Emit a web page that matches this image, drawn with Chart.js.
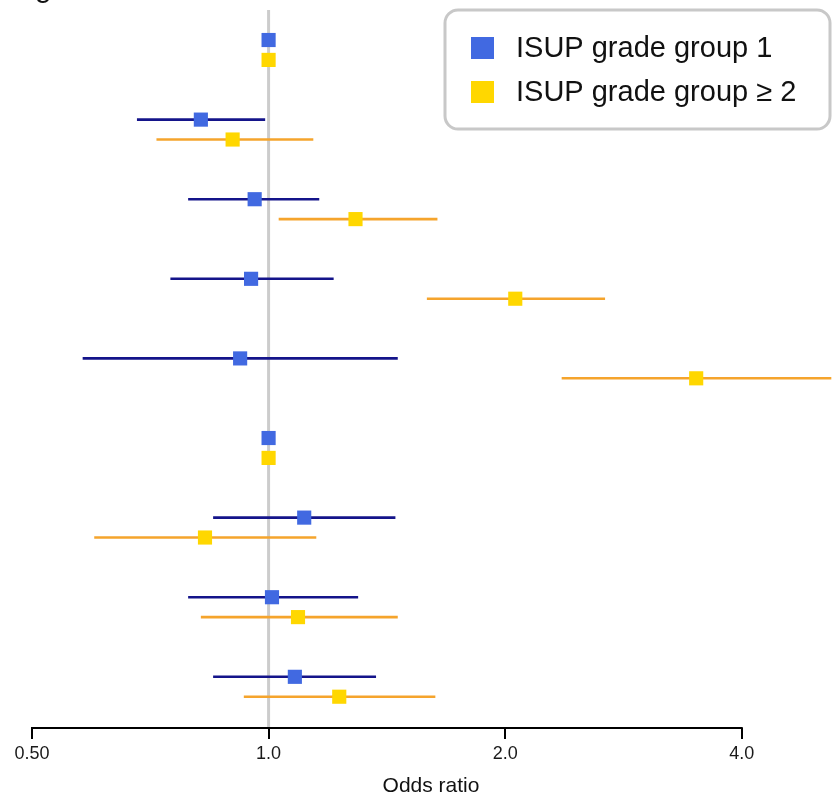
<!DOCTYPE html>
<html>
<head>
<meta charset="utf-8">
<script src="https://cdn.jsdelivr.net/npm/chart.js@4/dist/chart.umd.min.js"></script>
<style>
  body { margin: 0; background: #fff; }
  canvas { display: block; }
</style>
</head>
<body>
<canvas id="forest" width="840" height="799"></canvas>
<script>
// rows top to bottom (labels are cropped out of the picture)
const rowIndex = [0, 1, 2, 3, 4, 5, 6, 7, 8];

// ISUP grade group 1 - odds ratio and 95% CI
const grade1OR = [1.0, 0.82, 0.96, 0.95, 0.92, 1.0, 1.11, 1.01, 1.08];
const grade1Lo = [null, 0.68, 0.79, 0.75, 0.58, null, 0.85, 0.79, 0.85];
const grade1Hi = [null, 0.99, 1.16, 1.21, 1.46, null, 1.45, 1.30, 1.37];

// ISUP grade group >= 2
const grade2OR = [1.0, 0.90, 1.29, 2.06, 3.50, 1.0, 0.83, 1.09, 1.23];
const grade2Lo = [null, 0.72, 1.03, 1.59, 2.36, null, 0.60, 0.82, 0.93];
const grade2Hi = [null, 1.14, 1.64, 2.68, 5.20, null, 1.15, 1.46, 1.63];

const tickValues = [0.5, 1, 2, 4];
const tickLabels = ['0.50', '1.0', '2.0', '4.0'];

const seriesNames = ['ISUP grade group 1', 'ISUP grade group \u2265 2'];
const markerColors = ['#4169e1', '#ffd700'];
const ciColors = ['#14148a', '#f5a42c'];
const rowOffset = [0, 0.25];

const FONT = "'Liberation Sans', Arial, Helvetica, sans-serif";

const ciSets = [
  { lo: grade1Lo, hi: grade1Hi },
  { lo: grade2Lo, hi: grade2Hi }
];

// reference line at OR = 1, CI whiskers and the short x axis line
const forestPlugin = {
  id: 'forest',
  beforeDatasetsDraw(chart) {
    const { ctx, scales: { x, y }, chartArea } = chart;
    ctx.save();
    ctx.strokeStyle = '#cccccc';
    ctx.lineWidth = 3;
    ctx.beginPath();
    ctx.moveTo(x.getPixelForValue(1), chartArea.top);
    ctx.lineTo(x.getPixelForValue(1), chartArea.bottom);
    ctx.stroke();

    ciSets.forEach((s, k) => {
      ctx.strokeStyle = ciColors[k];
      ctx.lineWidth = 2.6;
      rowIndex.forEach(i => {
        if (s.lo[i] == null) return;
        const py = y.getPixelForValue(i + rowOffset[k]);
        ctx.beginPath();
        ctx.moveTo(x.getPixelForValue(s.lo[i]), py);
        ctx.lineTo(x.getPixelForValue(s.hi[i]), py);
        ctx.stroke();
      });
    });
    ctx.restore();
  },
  afterDraw(chart) {
    const { ctx, scales: { x }, chartArea } = chart;
    ctx.save();
    ctx.strokeStyle = '#000';
    ctx.lineWidth = 2;
    ctx.beginPath();
    ctx.moveTo(x.getPixelForValue(tickValues[0]) - 1, chartArea.bottom);
    ctx.lineTo(x.getPixelForValue(tickValues[tickValues.length - 1]) + 1, chartArea.bottom);
    ctx.stroke();

    // legend box
    const bx = 445, by = 10, bw = 385, bh = 119;
    ctx.fillStyle = '#fff';
    ctx.strokeStyle = '#c8c8c8';
    ctx.lineWidth = 3;
    ctx.beginPath();
    ctx.roundRect(bx, by, bw, bh, 13);
    ctx.fill();
    ctx.stroke();
    ctx.font = '29px ' + FONT;
    ctx.textBaseline = 'middle';
    seriesNames.forEach((name, k) => {
      const cy = 48 + k * 44;
      ctx.fillStyle = markerColors[k];
      ctx.fillRect(471, cy - 11, 23, 22);
      ctx.fillStyle = '#111';
      ctx.fillText(name, 516, cy + 1);
    });

    // cropped figure heading, only its descender is visible
    ctx.fillStyle = '#111';
    ctx.font = '30px ' + FONT;
    ctx.textBaseline = 'alphabetic';
    ctx.fillText('g', 35, -3);
    ctx.restore();
  }
};

const ctx = document.getElementById('forest').getContext('2d');
new Chart(ctx, {
  type: 'scatter',
  data: {
    datasets: [
      {
        label: seriesNames[0],
        data: rowIndex.map(i => ({ x: grade1OR[i], y: i + rowOffset[0] })),
        backgroundColor: markerColors[0],
        borderColor: markerColors[0],
        borderWidth: 0,
        pointStyle: 'rect',
        pointRadius: 10
      },
      {
        label: seriesNames[1],
        data: rowIndex.map(i => ({ x: grade2OR[i], y: i + rowOffset[1] })),
        backgroundColor: markerColors[1],
        borderColor: markerColors[1],
        borderWidth: 0,
        pointStyle: 'rect',
        pointRadius: 10
      }
    ]
  },
  options: {
    responsive: false,
    animation: false,
    layout: { padding: { left: 32, right: 0, top: 10, bottom: 0 } },
    plugins: {
      legend: { display: false },
      tooltip: { enabled: false }
    },
    scales: {
      x: {
        type: 'logarithmic',
        min: 0.5,
        max: 5.18,
        afterBuildTicks(scale) {
          scale.ticks = tickValues.map(v => ({ value: v }));
        },
        afterFit(scale) {
          scale.height = 71;
        },
        border: { display: false },
        grid: {
          display: true,
          drawOnChartArea: false,
          drawTicks: true,
          tickLength: 11,
          color: '#000',
          lineWidth: 2
        },
        ticks: {
          padding: 4,
          color: '#1a1a1a',
          font: { family: FONT, size: 18 },
          maxRotation: 0,
          callback: (v, idx) => tickLabels[idx]
        },
        title: {
          display: true,
          text: 'Odds ratio',
          color: '#111',
          font: { family: FONT, size: 21 },
          padding: { top: 2, bottom: 0 }
        }
      },
      y: {
        display: false,
        reverse: true,
        min: -0.377,
        max: 8.643
      }
    }
  },
  plugins: [forestPlugin]
});
</script>
</body>
</html>
